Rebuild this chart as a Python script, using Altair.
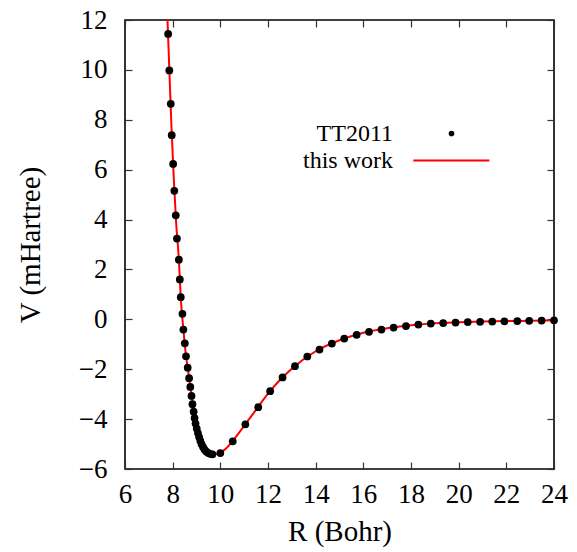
import altair as alt
import pandas as pd

# TT2011 reference points (R in Bohr, V in mHartree)
R_tt = [7.81, 7.86, 7.92, 7.96, 8.02, 8.07, 8.13, 8.18, 8.26, 8.30, 8.34, 8.41,
        8.45, 8.51, 8.56, 8.63, 8.69, 8.74, 8.79, 8.83, 8.88, 8.92, 8.96, 9.01,
        9.06, 9.11, 9.16, 9.21, 9.27, 9.33, 9.40, 9.48, 9.57, 9.67, 10.00, 10.52,
        11.05, 11.59, 12.09, 12.61, 13.13, 13.65, 14.16, 14.68, 15.20, 15.72,
        16.24, 16.76, 17.27, 17.79, 18.31, 18.83, 19.35, 19.87, 20.38, 20.90,
        21.41, 21.92, 22.46, 22.96, 23.48, 24.00]
V_tt = [11.44, 9.98, 8.64, 7.38, 6.23, 5.15, 4.17, 3.24, 2.39, 1.60, 0.89, 0.22,
        -0.41, -0.96, -1.48, -1.94, -2.36, -2.71, -3.07, -3.40, -3.70, -3.96,
        -4.18, -4.38, -4.56, -4.72, -4.87, -5.00, -5.11, -5.21, -5.29, -5.35,
        -5.39, -5.41, -5.36, -4.89, -4.21, -3.52, -2.88, -2.33, -1.88, -1.49,
        -1.21, -0.97, -0.77, -0.62, -0.50, -0.41, -0.33, -0.27, -0.21, -0.17,
        -0.15, -0.13, -0.11, -0.10, -0.09, -0.08, -0.07, -0.06, -0.05, -0.04]

# "this work" curve
R_fit = [7.76, 7.85, 7.95, 8.05, 8.15, 8.25, 8.35, 8.45, 8.55, 8.65, 8.75, 8.85,
         8.95, 9.05, 9.15, 9.25, 9.35, 9.45, 9.55, 9.65, 9.75, 9.85, 10.0, 10.25,
         10.5, 11.0, 11.5, 12.0, 12.5, 13.0, 14.0, 15.0, 16.0, 17.0, 18.0, 19.0,
         20.0, 21.0, 22.0, 23.0, 24.0]
V_fit = [12.6, 10.27, 7.70, 5.58, 3.80, 2.55, 0.72, -0.41, -1.38, -2.08, -2.78,
         -3.46, -4.10, -4.53, -4.85, -5.08, -5.23, -5.33, -5.38, -5.41, -5.41,
         -5.39, -5.34, -5.17, -4.90, -4.27, -3.62, -2.98, -2.43, -1.98, -1.28,
         -0.84, -0.54, -0.36, -0.24, -0.16, -0.12, -0.09, -0.07, -0.06, -0.04]

x_ticks = [6, 8, 10, 12, 14, 16, 18, 20, 22, 24]
y_ticks = [-6, -4, -2, 0, 2, 4, 6, 8, 10, 12]
legend_labels = ["TT2011", "this work"]

W, H = 429, 449
FONT = "Liberation Serif, Times New Roman, Times, serif"

pts = pd.DataFrame({"R": R_tt, "V": V_tt})
fit = pd.DataFrame({"R": R_fit, "V": V_fit})

xs = alt.Scale(domain=[6, 24], nice=False, zero=False)
ys = alt.Scale(domain=[-6, 12], nice=False, zero=False)

common = dict(labelFont=FONT, titleFont=FONT, labelFontSize=27, titleFontSize=29,
              titleFontWeight="normal", labelColor="black", titleColor="black",
              labelFlush=False, labelOverlap=False, labelBound=False)

label_x_axis = alt.Axis(orient="bottom", values=x_ticks, ticks=False, tickSize=0,
                        domain=False, grid=False, labelPadding=12,
                        title="R (Bohr)", titleX=W / 2, titleY=62,
                        titleAlign="center", titleBaseline="middle", **common)
label_y_axis = alt.Axis(orient="left", values=y_ticks, ticks=False, tickSize=0,
                        domain=False, grid=False, labelPadding=18,
                        title="V (mHartree)", titleX=-95, titleY=H / 2,
                        titleAngle=-90, titleAlign="center", titleBaseline="middle",
                        **common)


def tick_axis(orient, values, offset):
    return alt.Axis(orient=orient, values=values, labels=False, domain=False,
                    grid=False, title=None, ticks=True, tickSize=7,
                    tickColor="#333333", tickWidth=1.2, offset=offset)


line = alt.Chart(fit).mark_line(color="#ff0000", strokeWidth=2, clip=True,
                                interpolate="monotone").encode(
    x=alt.X("R:Q", scale=xs, axis=label_x_axis),
    y=alt.Y("V:Q", scale=ys, axis=label_y_axis),
)

points = alt.Chart(pts).mark_circle(color="black", size=60, opacity=1).encode(
    x=alt.X("R:Q", scale=xs, axis=tick_axis("top", x_ticks, -H)),
    y=alt.Y("V:Q", scale=ys, axis=tick_axis("right", y_ticks, -W)),
)

ghost = alt.Chart(pts).mark_circle(opacity=0).encode(
    x=alt.X("R:Q", scale=xs, axis=tick_axis("bottom", x_ticks, -H)),
    y=alt.Y("V:Q", scale=ys, axis=tick_axis("left", y_ticks, -W)),
)

leg_df = pd.DataFrame({"label": legend_labels})
leg_text1 = alt.Chart(leg_df).transform_filter(
    alt.datum.label == legend_labels[0]).mark_text(
    font=FONT, fontSize=24, align="right", baseline="middle", color="black").encode(
    text="label:N", x=alt.value(268), y=alt.value(113.5))
leg_text2 = alt.Chart(leg_df).transform_filter(
    alt.datum.label == legend_labels[1]).mark_text(
    font=FONT, fontSize=24, align="right", baseline="middle", color="black").encode(
    text="label:N", x=alt.value(268), y=alt.value(140.5))
leg_dot = alt.Chart(leg_df).transform_filter(
    alt.datum.label == legend_labels[0]).mark_circle(
    color="black", size=32, opacity=1).encode(x=alt.value(326.5), y=alt.value(113.5))
leg_line = alt.Chart(leg_df).transform_filter(
    alt.datum.label == legend_labels[1]).mark_rule(
    color="#ff0000", strokeWidth=2).encode(
    x=alt.value(288.3), x2=alt.value(364.3), y=alt.value(140.5))

chart = alt.layer(
    line, points, ghost, leg_text1, leg_text2, leg_dot, leg_line
).resolve_axis(x="independent", y="independent").properties(
    width=W, height=H,
    autosize=alt.AutoSizeParams(type="none"),
    padding={"left": 125, "top": 20, "right": 23, "bottom": 83},
    background="white",
).configure_view(
    stroke="black", strokeWidth=1.6
)

chart.save("out.html", embed_options={"renderer": "svg", "actions": False})
